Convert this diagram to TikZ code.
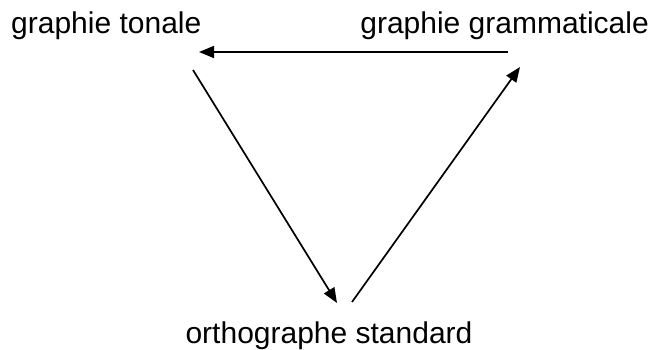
\documentclass[tikz,border=0pt]{standalone}
\usepackage{fontspec}
\setmainfont{Liberation Sans}
\usetikzlibrary{arrows.meta}
\begin{document}
\begin{tikzpicture}[x=1pt,y=-1pt,
  lbl/.style={inner sep=0pt,font=\fontsize{30}{34}\selectfont},
  conn/.style={line width=1.7pt,-{Triangle[length=15pt,width=12pt]}}]
\useasboundingbox (0,0) rectangle (655,350);
\node[lbl,anchor=base west] (gt) at (11,34) {graphie tonale};
\node[lbl,anchor=base east] (gg) at (649,34) {graphie grammaticale};
\node[lbl,anchor=base] (os) at (329,343) {orthographe standard};
\coordinate (a1s) at (508,52);
\coordinate (a1e) at (199,52);
\coordinate (a2s) at (193,70);
\coordinate (a2e) at (337,303);
\coordinate (a3s) at (352,302);
\coordinate (a3e) at (520,67);
\draw[conn] (a1s) -- (a1e);
\draw[conn] (a2s) -- (a2e);
\draw[conn] (a3s) -- (a3e);
\end{tikzpicture}
\end{document}
